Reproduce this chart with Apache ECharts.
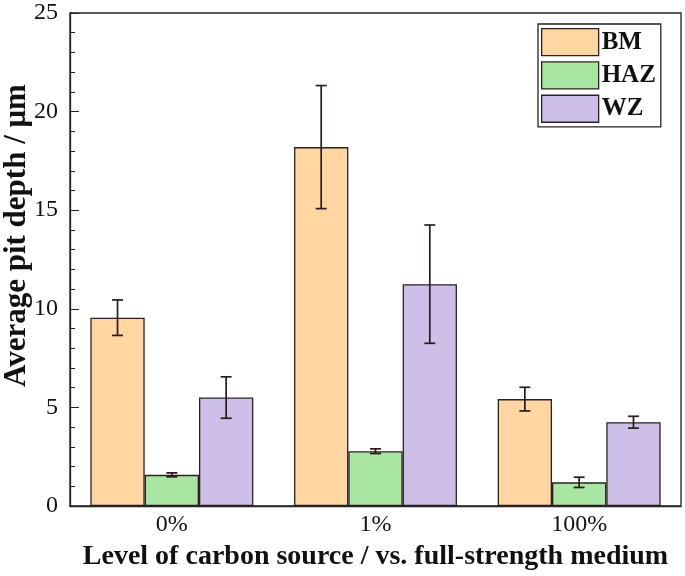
<!DOCTYPE html>
<html>
<head>
<meta charset="utf-8">
<script src="https://cdn.jsdelivr.net/npm/echarts@6/dist/echarts.min.js"></script>
<style>html,body{margin:0;padding:0;background:#fff;}#main{width:685px;height:576px;}</style>
</head>
<body>
<div id="main"></div>
<script>
const categories = ['0%', '1%', '100%'];
const seriesNames = ['BM', 'HAZ', 'WZ'];
const bmValues = [9.55, 18.2, 5.42];
const bmErrors = [0.9, 3.12, 0.6];
const hazValues = [1.58, 2.78, 1.2];
const hazErrors = [0.1, 0.12, 0.26];
const wzValues = [5.5, 11.25, 4.25];
const wzErrors = [1.05, 3.0, 0.3];
const yTicks = [0, 5, 10, 15, 20, 25];

const colors = ['#FFD5A2', '#A9E5A3', '#CDBFE7'];
const values = [bmValues, hazValues, wzValues];
const errors = [bmErrors, hazErrors, wzErrors];
const FONT = '"Liberation Serif", "Times New Roman", serif';

const chart = echarts.init(document.getElementById('main'));

const series = [];
seriesNames.forEach((name, si) => {
  series.push({
    name: name,
    type: 'bar',
    data: values[si],
    barGap: '0%',
    barCategoryGap: '20%',
    itemStyle: { color: colors[si], borderColor: '#2a2222', borderWidth: 1.3 },
    z: 2
  });
});
seriesNames.forEach((name, si) => {
  series.push({
    type: 'custom',
    name: name + '_err',
    data: values[si].map((v, i) => [i, v - errors[si][i], v + errors[si][i]]),
    z: 10,
    renderItem: function (params, api) {
      const idx = api.value(0);
      const band = api.size([1, 0])[0];
      const bw = band * 0.8 / 3;
      const off = (si - 1) * bw;
      const lo = api.coord([idx, api.value(1)]);
      const hi = api.coord([idx, api.value(2)]);
      const x = lo[0] + off;
      const cap = 5.5;
      const style = { stroke: '#2a1c1c', lineWidth: 1.7 };
      return {
        type: 'group',
        children: [
          { type: 'line', shape: { x1: x, y1: lo[1], x2: x, y2: hi[1] }, style: style },
          { type: 'line', shape: { x1: x - cap, y1: lo[1], x2: x + cap, y2: lo[1] }, style: style },
          { type: 'line', shape: { x1: x - cap, y1: hi[1], x2: x + cap, y2: hi[1] }, style: style }
        ]
      };
    }
  });
});

chart.setOption({
  animation: false,
  backgroundColor: '#fff',
  grid: {
    left: 70, right: 4, top: 13, bottom: 70,
    outerBoundsMode: 'none',
    containLabel: false,
    show: true, borderColor: '#222', borderWidth: 1.3, backgroundColor: 'transparent'
  },
  legend: {
    data: seriesNames,
    orient: 'vertical',
    left: 538, top: 24,
    icon: 'rect',
    itemWidth: 57, itemHeight: 27, itemGap: 5,
    padding: [4, 5, 4, 3],
    borderColor: '#222', borderWidth: 1.3,
    backgroundColor: '#fff',
    itemStyle: { borderColor: '#2a2222', borderWidth: 1.3 },
    textStyle: { fontFamily: FONT, fontSize: 25, fontWeight: 'bold', color: '#111', padding: [0, 0, 0, -2] }
  },
  xAxis: {
    type: 'category',
    data: categories,
    name: 'Level of carbon source / vs. full-strength medium',
    nameLocation: 'middle',
    nameGap: 37,
    nameMoveOverlap: false,
    nameTextStyle: { fontFamily: FONT, fontSize: 28, fontWeight: 'bold', color: '#111' },
    axisLine: { lineStyle: { color: '#222', width: 1.3 } },
    axisTick: { show: false },
    axisLabel: { fontFamily: FONT, fontSize: 24, color: '#111', margin: 7 }
  },
  yAxis: {
    type: 'value',
    min: yTicks[0], max: yTicks[yTicks.length - 1], interval: 5,
    name: 'Average pit depth / μm',
    nameLocation: 'middle',
    nameGap: 38,
    nameMoveOverlap: false,
    nameTextStyle: { fontFamily: FONT, fontSize: 31, fontWeight: 'bold', color: '#111', padding: [0, 0, 0, 48] },
    axisLine: { show: true, lineStyle: { color: '#222', width: 1.3 } },
    axisTick: { show: true, inside: true, length: 9, lineStyle: { color: '#222' } },
    minorTick: { show: true, splitNumber: 5, length: 5, lineStyle: { color: '#222' } },
    splitLine: { show: false },
    axisLabel: { fontFamily: FONT, fontSize: 24, color: '#111', margin: 12 }
  },
  series: series
});
</script>
</body>
</html>
